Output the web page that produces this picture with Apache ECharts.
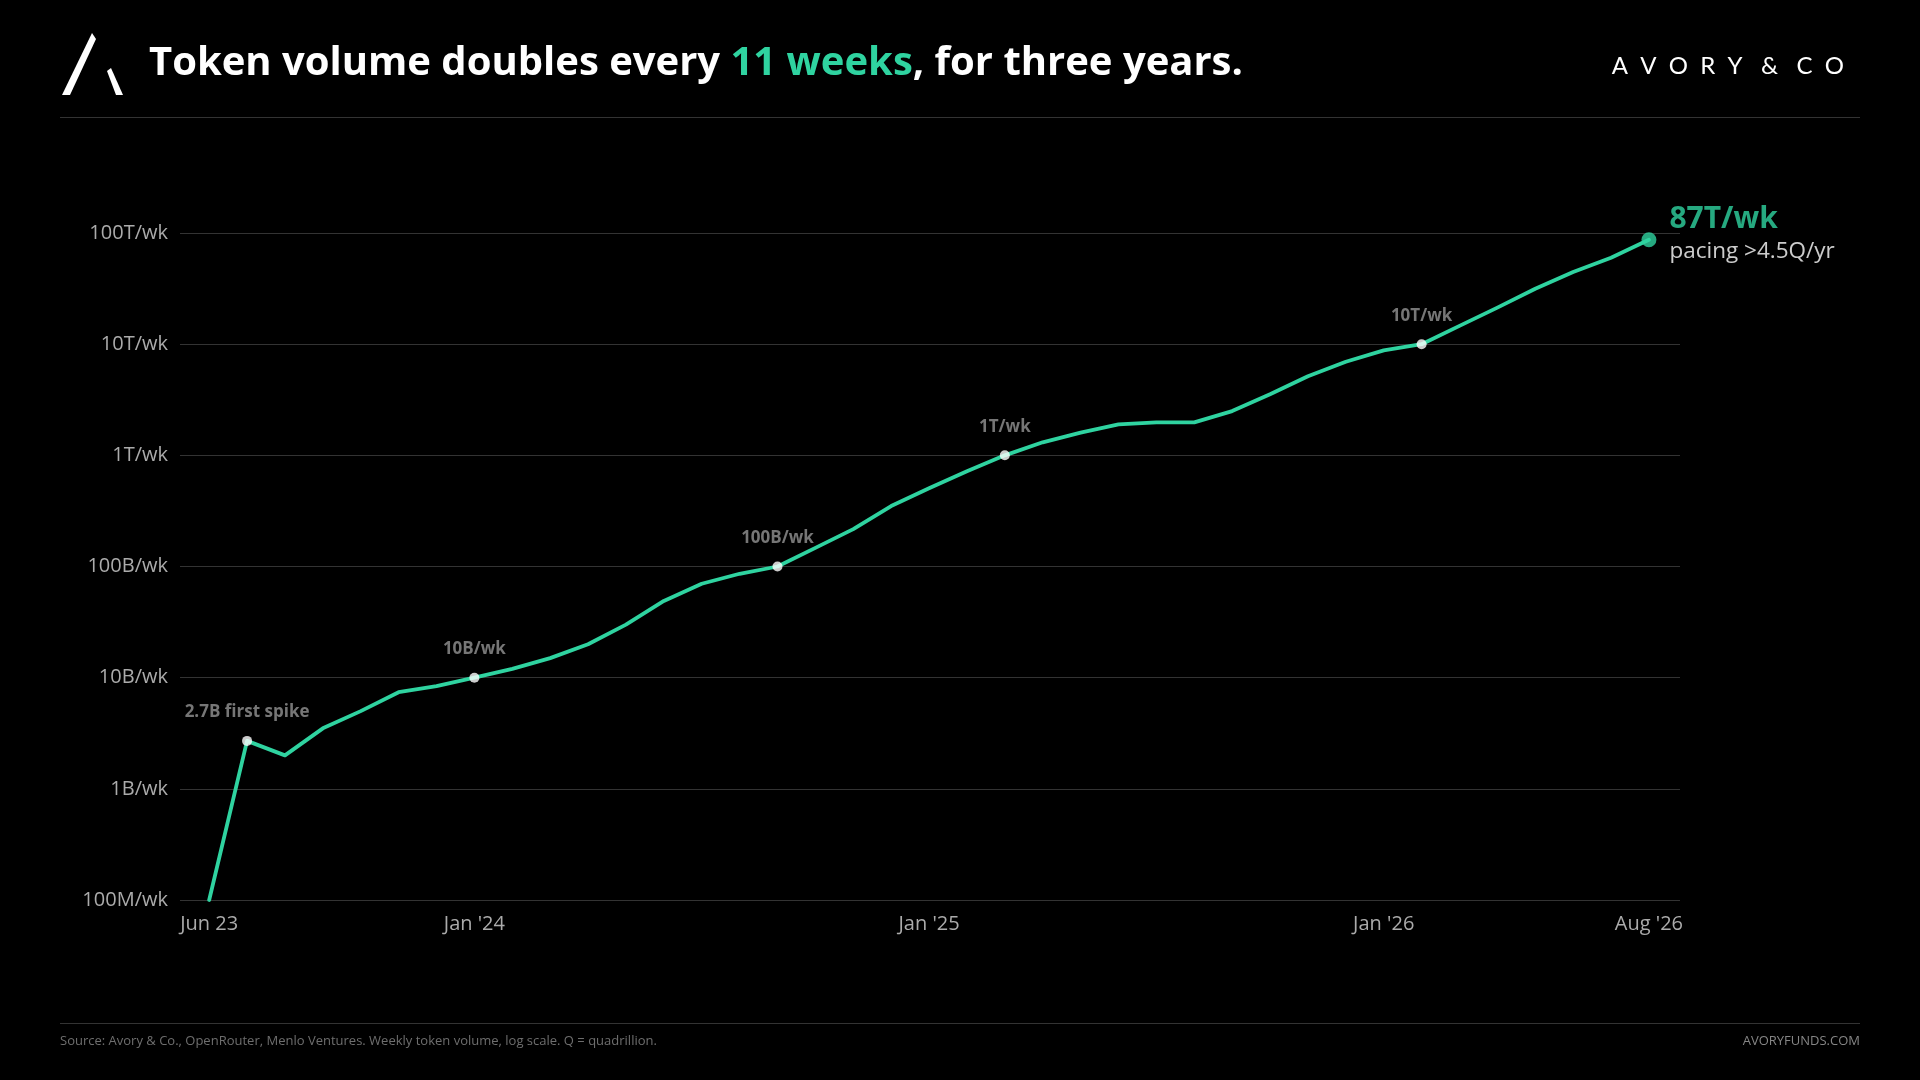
<!DOCTYPE html>
<html><head><meta charset="utf-8">
<script src="https://cdn.jsdelivr.net/npm/echarts@6/dist/echarts.min.js"></script>
<style>html,body{margin:0;padding:0;background:#000;}#c{width:1920px;height:1080px;}</style>
</head><body><div id="c"></div>
<script>
// months since Jun 2023
const months = [0,1,2,3,4,5,6,7,8,9,10,11,12,13,14,15,16,17,18,19,20,21,22,23,24,25,26,27,28,29,30,31,32,33,34,35,36,37,38];
// weekly token volume
const volumes = [1e8, 2.7e9, 2.0e9, 3.5e9, 5.0e9, 7.4e9, 8.4e9, 1.0e10, 1.2e10, 1.5e10, 2.0e10, 3.0e10, 4.9e10, 7.0e10, 8.6e10, 1.0e11, 1.47e11, 2.17e11, 3.5e11, 5.05e11, 7.2e11, 1.0e12, 1.31e12, 1.6e12, 1.9e12, 1.98e12, 1.98e12, 2.5e12, 3.55e12, 5.15e12, 6.95e12, 8.8e12, 1.0e13, 1.46e13, 2.13e13, 3.15e13, 4.45e13, 6.0e13, 8.7e13];
const milestoneMonths = [1, 7, 15, 21, 32];
const milestoneValues = [2.7e9, 1e10, 1e11, 1e12, 1e13];
const milestoneLabels = ['2.7B first spike', '10B/wk', '100B/wk', '1T/wk', '10T/wk'];
const endMonth = 38;
const endValue = 8.7e13;
const endLabel = '87T/wk';
const endNote = 'pacing >4.5Q/yr';
const xTickMonths = [0, 7, 19, 31, 38];
const xTickLabels = ['Jun 23', "Jan '24", "Jan '25", "Jan '26", "Aug '26"];
const yTickLabels = ['100M/wk', '1B/wk', '10B/wk', '100B/wk', '1T/wk', '10T/wk', '100T/wk'];

const GREEN = '#2fd3a0';
const FONT = "'Open Sans', 'Noto Sans', sans-serif";

const chart = echarts.init(document.getElementById('c'), null, {renderer: 'canvas'});
chart.setOption({
  backgroundColor: '#000000',
  animation: false,
  textStyle: {fontFamily: FONT},
  grid: {left: 180, right: 240, top: 233, bottom: 180},
  xAxis: {
    type: 'value',
    min: -0.77,
    max: 38.82,
    axisLine: {show: false},
    axisTick: {show: false},
    splitLine: {show: false},
    axisLabel: {
      customValues: xTickMonths,
      formatter: function (v) {
        const i = xTickMonths.indexOf(Math.round(v));
        return i >= 0 ? xTickLabels[i] : '';
      },
      color: '#ababab',
      fontSize: 20,
      fontFamily: FONT,
      margin: 14
    }
  },
  yAxis: {
    type: 'log',
    logBase: 10,
    min: 1e8,
    max: 1e14,
    interval: 1,
    splitNumber: 6,
    axisLine: {show: false},
    axisTick: {show: false},
    splitLine: {lineStyle: {color: '#333333', width: 1}},
    axisLabel: {
      formatter: function (v) {
        const i = Math.round(Math.log10(v)) - 8;
        return yTickLabels[i] || '';
      },
      color: '#ababab',
      fontSize: 20,
      fontFamily: FONT,
      margin: 12
    }
  },
  series: [
    {
      type: 'line',
      data: months.map((m, i) => [m, volumes[i]]),
      showSymbol: false,
      symbol: 'none',
      lineStyle: {color: GREEN, width: 3.8, join: 'round', cap: 'round'},
      z: 2
    },
    {
      type: 'scatter',
      data: milestoneMonths.map((m, i) => ({value: [m, milestoneValues[i]], name: milestoneLabels[i]})),
      symbolSize: 10,
      itemStyle: {color: '#ffffff'},
      label: {
        show: true,
        position: 'top',
        distance: 15,
        formatter: '{b}',
        color: '#939393',
        fontSize: 17,
        fontWeight: 'bold',
        fontFamily: FONT
      },
      z: 3
    },
    {
      type: 'scatter',
      data: [{value: [endMonth, endValue], name: endLabel}],
      symbolSize: 15,
      itemStyle: {color: GREEN},
      label: {
        show: true,
        position: 'right',
        distance: 13,
        offset: [0, -5],
        formatter: '{a|' + endLabel + '}\n{b|' + endNote + '}',
        rich: {
          a: {color: GREEN, fontSize: 30, fontWeight: 'bold', fontFamily: FONT, lineHeight: 34},
          b: {color: '#ffffff', fontSize: 22.5, fontFamily: FONT, lineHeight: 30}
        }
      },
      z: 4
    }
  ],
  graphic: [
    {type: 'polygon', shape: {points: [[62, 95], [70, 95], [96, 39], [92, 33]]}, style: {fill: '#ffffff'}},
    {type: 'polygon', shape: {points: [[107, 71], [111, 68], [123, 95], [116, 95]]}, style: {fill: '#ffffff'}},
    {
      type: 'text', left: 149, top: 44,
      style: {
        text: '{w|Token volume doubles every }{g|11 weeks}{w|, for three years.}',
        rich: {
          w: {fill: '#ffffff', fontSize: 40, fontWeight: 'bold', fontFamily: FONT},
          g: {fill: GREEN, fontSize: 40, fontWeight: 'bold', fontFamily: FONT}
        }
      }
    },
    {
      type: 'text', right: 76, top: 54,
      style: {
        text: 'A  V  O  R  Y   &   C  O',
        fill: '#ffffff', fontSize: 24, fontWeight: 400, fontFamily: "Lato, 'Open Sans', sans-serif"
      }
    },
    {type: 'line', shape: {x1: 60, y1: 117.5, x2: 1860, y2: 117.5}, style: {stroke: '#333333', lineWidth: 1}},
    {type: 'line', shape: {x1: 60, y1: 1023.5, x2: 1860, y2: 1023.5}, style: {stroke: '#333333', lineWidth: 1}},
    {
      type: 'text', left: 60, top: 1035,
      style: {text: 'Source: Avory & Co., OpenRouter, Menlo Ventures. Weekly token volume, log scale. Q = quadrillion.',
        fill: '#6e6e6e', fontSize: 13, fontFamily: FONT}
    },
    {
      type: 'text', right: 60, top: 1035,
      style: {text: 'AVORYFUNDS.COM', fill: '#858585', fontSize: 13, fontFamily: FONT}
    }
  ]
});
</script>
</body></html>
